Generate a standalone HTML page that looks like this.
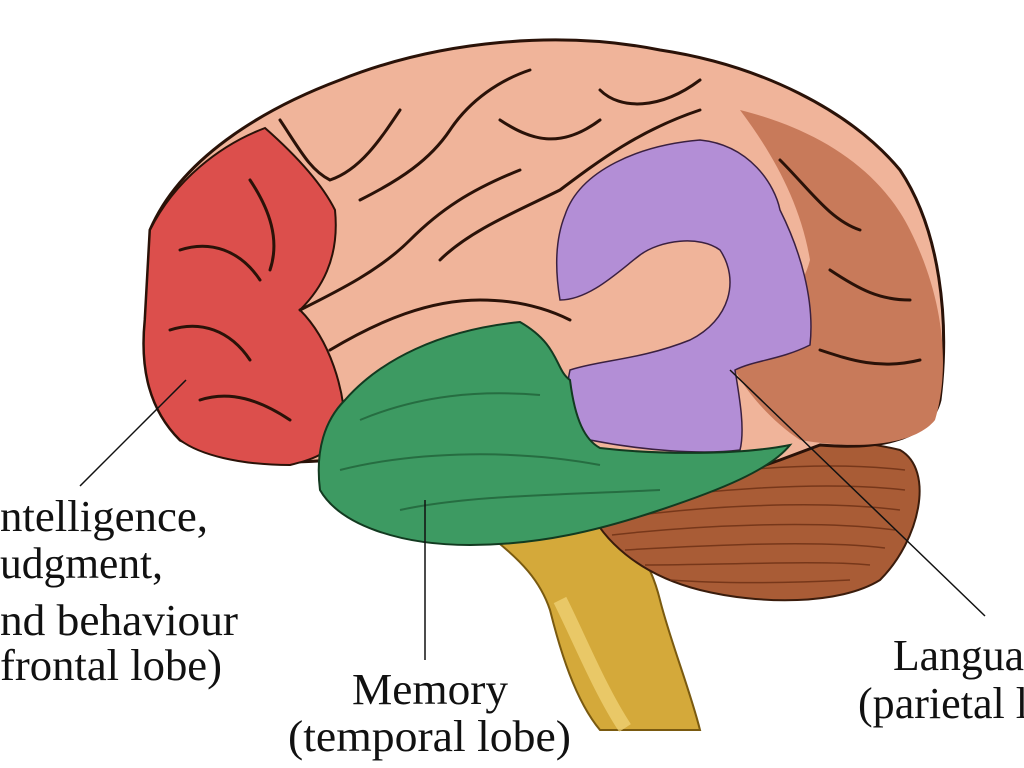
<!DOCTYPE html>
<html><head><style>html,body{margin:0;padding:0;background:#fff;width:1024px;height:768px;overflow:hidden}</style></head>
<body>
<svg width="1024" height="768" viewBox="0 0 1024 768" xmlns="http://www.w3.org/2000/svg">
<rect width="1024" height="768" fill="#fff"/>
<!-- brainstem -->
<path d="M495,540 C520,560 540,580 550,610 C560,650 575,700 600,730 L700,730 C690,690 670,640 660,600 C650,560 630,530 600,520 Z" fill="#d4a93a" stroke="#7a5a10" stroke-width="2"/>
<path d="M560,600 C580,640 600,690 625,728" stroke="#f2d67a" stroke-width="14" fill="none" opacity="0.7"/>
<!-- cerebellum -->
<path d="M590,470 C680,440 820,430 900,450 C935,470 920,540 880,580 C840,605 760,605 700,590 C640,575 600,540 585,500 Z" fill="#a95c36" stroke="#3a1c0c" stroke-width="2"/>
<g stroke="#6b2f14" stroke-width="1.5" fill="none" opacity="0.8">
<path d="M600,490 C700,470 820,460 905,470"/><path d="M600,505 C700,490 820,480 905,490"/><path d="M605,520 C700,505 820,500 900,510"/><path d="M612,535 C700,525 820,520 895,530"/><path d="M625,550 C710,545 820,540 885,548"/><path d="M645,565 C720,565 820,560 870,565"/><path d="M670,580 C740,585 810,582 850,580"/>
</g>
<!-- whole cerebrum base (peach) -->
<path d="M150,230 C180,160 260,110 340,80 C440,40 560,30 660,50 C760,65 850,110 900,170 C940,230 950,320 940,400 C930,440 880,450 820,445 L780,460 C720,480 640,520 560,535 C500,545 420,545 360,520 C320,500 320,470 330,460 C280,465 220,460 180,440 C150,410 140,370 145,320 Z" fill="#f0b49a" stroke="#2a1208" stroke-width="3"/>
<!-- back brown region -->
<path d="M740,110 C820,130 880,170 910,230 C945,300 950,370 935,420 C915,445 860,450 800,440 C770,420 745,390 735,370 C760,330 800,300 810,260 C800,200 770,150 740,110 Z" fill="#c87a5a"/>
<!-- frontal red -->
<path d="M150,230 C175,180 220,145 265,128 C290,150 320,180 335,210 C340,260 320,290 300,310 C330,340 345,390 345,430 C330,455 310,460 290,465 C240,465 200,455 180,440 C150,410 140,370 145,320 Z" fill="#dc4f4c" stroke="#2a1208" stroke-width="2"/>
<!-- purple -->
<path d="M565,215 C580,170 640,145 700,140 C750,145 775,185 780,210 C800,250 815,300 810,345 C780,360 755,360 735,370 C740,400 745,430 740,450 C700,455 640,450 590,440 C570,420 565,390 570,370 C600,360 640,360 690,340 C730,320 740,280 720,250 C700,235 660,240 640,255 C620,270 590,300 560,300 C555,270 555,240 565,215 Z" fill="#b38ed6" stroke="#3a2040" stroke-width="1.5"/>
<!-- green temporal -->
<path d="M345,400 C380,360 440,330 520,322 C560,345 555,370 570,380 C575,420 585,440 600,448 C660,455 740,455 790,445 C770,470 720,490 660,510 C600,530 540,545 470,545 C400,545 340,525 320,490 C315,450 325,420 345,400 Z" fill="#3d9a62" stroke="#123a20" stroke-width="2"/>
<g stroke="#1d5a34" stroke-width="2" fill="none" opacity="0.7">
<path d="M360,420 C420,395 480,390 540,395"/><path d="M340,470 C420,450 520,450 600,465"/><path d="M400,510 C470,495 560,495 660,490"/>
</g>
<!-- gyri lines -->
<g stroke="#2a1208" stroke-width="3" fill="none" stroke-linecap="round">
<path d="M280,120 C300,150 310,170 330,180 C360,170 380,140 400,110"/>
<path d="M360,200 C400,180 430,160 450,130 C470,100 500,80 530,70"/>
<path d="M300,310 C340,290 380,270 410,240 C440,210 470,190 520,170"/>
<path d="M330,350 C380,320 430,300 480,300 C520,300 550,310 570,320"/>
<path d="M440,260 C470,230 520,210 560,190 C600,160 640,130 700,110"/>
<path d="M500,120 C530,140 560,150 600,120"/>
<path d="M600,90 C620,110 660,110 700,80"/>
<path d="M780,160 C810,190 830,220 860,230"/>
<path d="M830,270 C860,290 880,300 910,300"/>
<path d="M820,350 C850,360 880,370 920,360"/>
<path d="M180,250 C210,240 240,250 260,280"/>
<path d="M170,330 C200,320 230,330 250,360"/>
<path d="M200,400 C230,390 260,400 290,420"/>
<path d="M250,180 C270,210 280,240 270,270"/>
</g>
<!-- leader lines -->
<g stroke="#111" stroke-width="1.5">
<line x1="80" y1="486" x2="186" y2="380"/>
<line x1="425" y1="500" x2="425" y2="660"/>
<line x1="730" y1="370" x2="985" y2="616"/>
</g>
<g font-family="Liberation Serif, serif" font-size="44" fill="#111">
<text x="0" y="531" textLength="208" lengthAdjust="spacingAndGlyphs">ntelligence,</text>
<text x="0" y="578" textLength="163" lengthAdjust="spacingAndGlyphs">udgment,</text>
<text x="0" y="635" textLength="238" lengthAdjust="spacingAndGlyphs">nd behaviour</text>
<text x="0" y="680" textLength="222" lengthAdjust="spacingAndGlyphs">frontal lobe)</text>
<text x="352" y="704" textLength="156" lengthAdjust="spacingAndGlyphs">Memory</text>
<text x="288" y="751" textLength="283" lengthAdjust="spacingAndGlyphs">(temporal lobe)</text>
<text x="893" y="670" textLength="131" lengthAdjust="spacingAndGlyphs">Langua</text>
<text x="858" y="718" textLength="170" lengthAdjust="spacingAndGlyphs">(parietal l</text>
</g>
</svg>
</body></html>
